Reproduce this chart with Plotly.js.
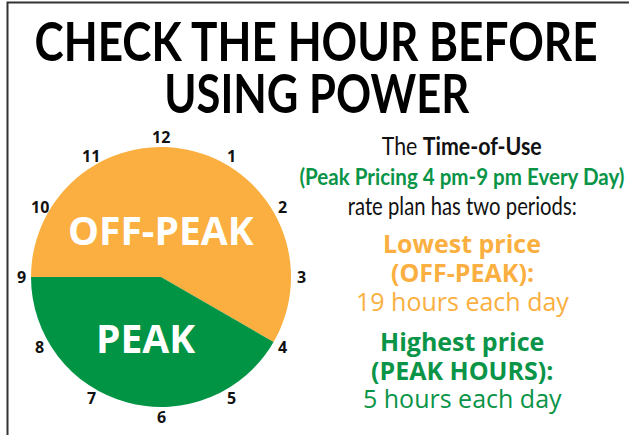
<!DOCTYPE html>
<html><head><meta charset="utf-8">
<script src="https://cdn.plot.ly/plotly-3.0.1.min.js"></script>
<style>html,body{margin:0;padding:0;background:#fff;}#chart{width:629px;height:435px;}</style>
</head><body><div id="chart"></div>
<script>
// Data (12-hour clock face: peak 4 pm - 9 pm)
const periods = ["OFF-PEAK", "PEAK"];
const clockHours = [7, 5];          // share of the 12-hour dial
const dailyHours = [19, 5];         // hours each day
const clockNumbers = ["12","1","2","3","4","5","6","7","8","9","10","11"];
const colors = ["#FAAF40", "#009444"];

const W = 629, H = 435;
const px = x => x / W, py = y => 1 - y / H;
const cx = 161, cy = 277, R = 130, numR = 140;

const COND = "Lato, 'Open Sans', sans-serif";
const HUM = "'Open Sans', 'Noto Sans', sans-serif";

const pie = {
  type: 'pie',
  labels: periods,
  values: clockHours,
  sort: false,
  direction: 'clockwise',
  rotation: -90,
  marker: {colors: colors, line: {width: 0}},
  textinfo: 'none',
  hoverinfo: 'skip',
  showlegend: false,
  domain: {x: [px(cx - R), px(cx + R)], y: [py(cy + R), py(cy - R)]}
};

const ann = [];
const condenseTo = {};   // annotation index -> target width (emulates a condensed face)
// clock numbers
clockNumbers.forEach((n, i) => {
  const a = i * Math.PI / 6;
  ann.push({xref: 'paper', yref: 'paper', x: px(cx + numR * Math.sin(a)), y: py(cy - numR * Math.cos(a)),
    text: '<b>' + n + '</b>', showarrow: false, xanchor: 'center', yanchor: 'middle',
    font: {family: HUM, size: 16, color: '#111'}});
});
// slice labels
ann.push({xref:'paper', yref:'paper', x: px(161), y: py(229), text: '<b>' + periods[0] + '</b>', showarrow:false,
  xanchor:'center', yanchor:'middle', font:{family: HUM, size: 39, color:'#fff'}});
ann.push({xref:'paper', yref:'paper', x: px(145), y: py(337), text: '<b>' + periods[1] + '</b>', showarrow:false,
  xanchor:'center', yanchor:'middle', font:{family: HUM, size: 39, color:'#fff'}});
// title line 2
condenseTo[ann.length] = 305;
ann.push({xref:'paper', yref:'paper', x: px(317), y: py(92), text: '<b>USING POWER</b>', showarrow:false,
  xanchor:'center', yanchor:'middle', font:{family: COND, size: 53, color:'#000'}});

// right-side text
const rx = 462;
const rightText = [
  {y:145, t:'The <b>Time-of-Use</b>', f:COND, s:25, c:'#111', w:160},
  {y:176, t:'<b>(Peak Pricing 4 pm-9 pm Every Day)</b>', f:COND, s:22, c:'#0A9447', w:325},
  {y:205, t:'rate plan has two periods:', f:COND, s:25, c:'#111', w:229},
  {y:243, t:'<b>Lowest price</b>', f:HUM, s:25, c:colors[0]},
  {y:272, t:'<b>(' + periods[0] + '):</b>', f:HUM, s:25, c:colors[0]},
  {y:301, t: dailyHours[0] + ' hours each day', f:HUM, s:25, c:colors[0]},
  {y:341, t:'<b>Highest price</b>', f:HUM, s:25, c:'#0A9447'},
  {y:370, t:'<b>(' + periods[1] + ' HOURS):</b>', f:HUM, s:25, c:'#0A9447'},
  {y:398, t: dailyHours[1] + ' hours each day', f:HUM, s:25, c:'#0A9447'}
];
rightText.forEach(r => {
  if (r.w) condenseTo[ann.length] = r.w;
  ann.push({xref:'paper', yref:'paper', x: px(rx), y: py(r.y), text: r.t, showarrow:false,
    xanchor:'center', yanchor:'middle', font:{family: r.f, size: r.s, color: r.c}});
});

const layout = {
  width: W, height: H,
  margin: {l:0, r:0, t:0, b:0},
  paper_bgcolor: '#fff',
  title: {text: '<b>CHECK THE HOUR BEFORE</b>', x: px(316), xanchor: 'center', y: py(42), yanchor: 'middle',
    font: {family: COND, size: 53, color: '#000'}},
  annotations: ann,
  shapes: [{type:'path', xref:'paper', yref:'paper', path: `M ${px(7.5)} ${py(440)} L ${px(7.5)} ${py(2.5)} L ${px(640)} ${py(2.5)}`,
    line: {color:'#333', width: 2}}],
  hovermode: false
};

function condense(el, target) {
  if (!el) return;
  const w = el.getComputedTextLength();
  if (w > target) {
    el.setAttribute('textLength', target);
    el.setAttribute('lengthAdjust', 'spacingAndGlyphs');
  }
}
Plotly.newPlot('chart', [pie], layout, {displayModeBar: false, staticPlot: true}).then(gd => {
  condense(gd.querySelector('text.gtitle'), 563);
  Object.keys(condenseTo).forEach(i => {
    condense(gd.querySelector('g.annotation[data-index="' + i + '"] text.annotation-text'), condenseTo[i]);
  });
});
</script></body></html>
